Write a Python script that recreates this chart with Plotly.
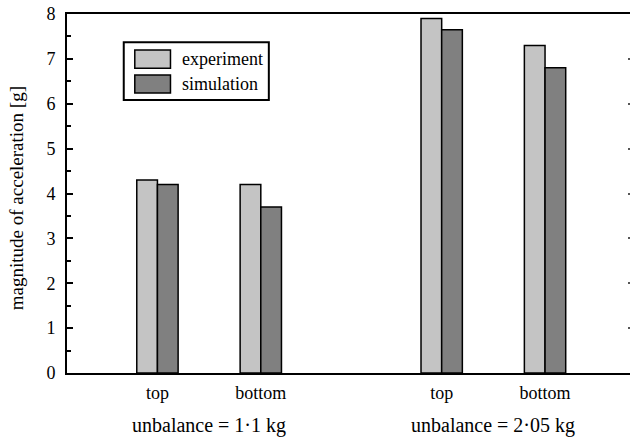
import plotly.graph_objects as go

# ---- data ----
groups = ["unbalance = 1·1 kg", "unbalance = 2·05 kg"]
positions = ["top", "bottom"]
series_names = ["experiment", "simulation"]
experiment = [4.3, 4.2, 7.9, 7.3]
simulation = [4.2, 3.7, 7.65, 6.8]
series_colors = ["#c4c4c4", "#808080"]

# x layout: pairs inside a group 1 unit apart, groups separated by a wider gap
GROUP_STEP = 2.75
x_pos = [g * GROUP_STEP + p for g in range(len(groups)) for p in range(len(positions))]
tick_text = [positions[p] for g in range(len(groups)) for p in range(len(positions))]
group_centers = [g * GROUP_STEP + (len(positions) - 1) / 2 for g in range(len(groups))]

BAR_W = 0.2
FONT = "Liberation Serif, Times New Roman, serif"

fig = go.Figure()
for name, vals, col, off in zip(series_names, [experiment, simulation], series_colors, [-BAR_W, 0]):
    fig.add_trace(go.Bar(
        x=x_pos, y=vals, name=name, width=BAR_W, offset=off,
        marker=dict(color=col, line=dict(color="black", width=1.5)),
        showlegend=False,
    ))

# empty helper trace so the right-hand tick axis is drawn
fig.add_trace(go.Scatter(x=[None], y=[None], yaxis="y2", showlegend=False, hoverinfo="skip"))

fig.update_layout(
    width=630, height=441,
    margin=dict(l=67, r=0, t=14, b=68),
    paper_bgcolor="white", plot_bgcolor="white",
    font=dict(family=FONT, color="black", size=18),
    barmode="overlay",
    xaxis=dict(
        range=[-0.875, 4.572], showgrid=False, zeroline=False,
        showline=True, linecolor="black", linewidth=2, mirror=True,
        tickmode="array", tickvals=x_pos, ticktext=tick_text, ticks="",
        ticklabelstandoff=2, tickfont=dict(size=18, color="black"),
    ),
    yaxis=dict(
        range=[0, 8], showgrid=False, zeroline=False,
        showline=True, linecolor="black", linewidth=2,
        tickmode="linear", tick0=0, dtick=1, ticks="inside", ticklen=6,
        tickwidth=1.5, tickcolor="black", ticklabelstandoff=6,
        tickfont=dict(size=18, color="black"),
        minor=dict(ticks="inside", dtick=0.5, ticklen=4, tickwidth=1.5, tickcolor="black"),
    ),
    yaxis2=dict(
        overlaying="y", side="right", matches="y", range=[0, 8],
        showgrid=False, zeroline=False, showline=False, showticklabels=False,
        tickmode="linear", tick0=0, dtick=1, ticks="inside", ticklen=2,
        tickwidth=1.5, tickcolor="#555555",
    ),
)

# y-axis title
fig.add_annotation(
    text="magnitude of acceleration [g]", xref="paper", yref="paper",
    x=-0.0894, y=0.486, xanchor="center", yanchor="middle",
    textangle=-90, showarrow=False, font=dict(size=19, color="black"),
)

# group labels
for gname, gc in zip(groups, group_centers):
    fig.add_annotation(
        text=gname, xref="x", yref="paper", x=gc, y=-0.146,
        xanchor="center", yanchor="middle", showarrow=False,
        font=dict(size=20, color="black"),
    )

# legend box (custom, large swatches)
fig.add_shape(type="rect", xref="paper", yref="paper",
              x0=0.1008, x1=0.3585, y0=0.7603, y1=0.9211,
              line=dict(color="black", width=2), fillcolor="white", layer="above")
sw_y = [(0.8489, 0.8999), (0.7800, 0.8302)]
for name, col, (y0, y1) in zip(series_names, series_colors, sw_y):
    fig.add_shape(type="rect", xref="paper", yref="paper",
                  x0=0.1204, x1=0.1838, y0=y0, y1=y1,
                  line=dict(color="black", width=1.5), fillcolor=col, layer="above")
    fig.add_annotation(text=name, xref="paper", yref="paper",
                       x=0.2003, y=(y0 + y1) / 2, xanchor="left", yanchor="middle",
                       showarrow=False, font=dict(size=18, color="black"))

fig.write_html("out.html")
